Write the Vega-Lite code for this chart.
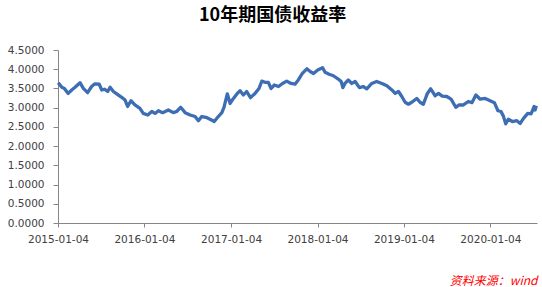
{
  "$schema": "https://vega.github.io/schema/vega-lite/v6.json",
  "width": 479,
  "height": 173,
  "autosize": {"type": "none"},
  "padding": {"left": 58, "top": 50, "right": 5, "bottom": 64},
  "background": "white",
  "title": {
    "text": "10年期国债收益率",
    "font": "Noto Sans CJK SC",
    "fontSize": 18,
    "fontWeight": "bold",
    "color": "#000000",
    "anchor": "middle",
    "frame": "bounds",
    "offset": 20
  },
  "config": {"view": {"stroke": null}},
  "data": {
    "values": [
      {"date": "2015-01-05", "yield": 3.65},
      {"date": "2015-01-20", "yield": 3.53},
      {"date": "2015-01-31", "yield": 3.50},
      {"date": "2015-02-16", "yield": 3.37},
      {"date": "2015-03-03", "yield": 3.46},
      {"date": "2015-03-17", "yield": 3.53},
      {"date": "2015-04-07", "yield": 3.65},
      {"date": "2015-04-21", "yield": 3.50},
      {"date": "2015-05-09", "yield": 3.39},
      {"date": "2015-05-26", "yield": 3.55},
      {"date": "2015-06-09", "yield": 3.62},
      {"date": "2015-06-27", "yield": 3.61},
      {"date": "2015-07-08", "yield": 3.46},
      {"date": "2015-07-19", "yield": 3.48},
      {"date": "2015-08-02", "yield": 3.42},
      {"date": "2015-08-12", "yield": 3.53},
      {"date": "2015-08-26", "yield": 3.42},
      {"date": "2015-09-09", "yield": 3.36},
      {"date": "2015-09-30", "yield": 3.27},
      {"date": "2015-10-14", "yield": 3.20},
      {"date": "2015-10-25", "yield": 3.03},
      {"date": "2015-11-08", "yield": 3.18},
      {"date": "2015-11-25", "yield": 3.07},
      {"date": "2015-12-16", "yield": 2.98},
      {"date": "2015-12-30", "yield": 2.85},
      {"date": "2016-01-18", "yield": 2.81},
      {"date": "2016-02-04", "yield": 2.90},
      {"date": "2016-02-18", "yield": 2.85},
      {"date": "2016-03-03", "yield": 2.92},
      {"date": "2016-03-21", "yield": 2.87},
      {"date": "2016-04-14", "yield": 2.94},
      {"date": "2016-05-05", "yield": 2.87},
      {"date": "2016-05-19", "yield": 2.90},
      {"date": "2016-06-05", "yield": 3.01},
      {"date": "2016-06-24", "yield": 2.87},
      {"date": "2016-07-15", "yield": 2.81},
      {"date": "2016-08-05", "yield": 2.77},
      {"date": "2016-08-19", "yield": 2.66},
      {"date": "2016-09-02", "yield": 2.77},
      {"date": "2016-09-20", "yield": 2.75},
      {"date": "2016-10-07", "yield": 2.70},
      {"date": "2016-10-25", "yield": 2.64},
      {"date": "2016-11-11", "yield": 2.77},
      {"date": "2016-11-26", "yield": 2.87},
      {"date": "2016-12-05", "yield": 3.01},
      {"date": "2016-12-19", "yield": 3.36},
      {"date": "2016-12-31", "yield": 3.11},
      {"date": "2017-01-14", "yield": 3.24},
      {"date": "2017-01-30", "yield": 3.37},
      {"date": "2017-02-11", "yield": 3.44},
      {"date": "2017-02-25", "yield": 3.33},
      {"date": "2017-03-11", "yield": 3.42},
      {"date": "2017-03-27", "yield": 3.26},
      {"date": "2017-04-15", "yield": 3.37},
      {"date": "2017-05-02", "yield": 3.50},
      {"date": "2017-05-14", "yield": 3.69},
      {"date": "2017-05-27", "yield": 3.66},
      {"date": "2017-06-10", "yield": 3.66},
      {"date": "2017-06-22", "yield": 3.50},
      {"date": "2017-07-06", "yield": 3.59},
      {"date": "2017-07-23", "yield": 3.55},
      {"date": "2017-08-09", "yield": 3.63},
      {"date": "2017-08-27", "yield": 3.69},
      {"date": "2017-09-14", "yield": 3.63},
      {"date": "2017-10-01", "yield": 3.61},
      {"date": "2017-10-15", "yield": 3.72},
      {"date": "2017-11-01", "yield": 3.89},
      {"date": "2017-11-20", "yield": 4.01},
      {"date": "2017-12-04", "yield": 3.94},
      {"date": "2017-12-18", "yield": 3.89},
      {"date": "2018-01-05", "yield": 3.98},
      {"date": "2018-01-25", "yield": 4.04},
      {"date": "2018-02-05", "yield": 3.92},
      {"date": "2018-02-22", "yield": 3.87},
      {"date": "2018-03-12", "yield": 3.83},
      {"date": "2018-03-31", "yield": 3.75},
      {"date": "2018-04-14", "yield": 3.68},
      {"date": "2018-04-21", "yield": 3.52},
      {"date": "2018-04-30", "yield": 3.63},
      {"date": "2018-05-14", "yield": 3.72},
      {"date": "2018-05-29", "yield": 3.63},
      {"date": "2018-06-12", "yield": 3.68},
      {"date": "2018-06-30", "yield": 3.52},
      {"date": "2018-07-17", "yield": 3.55},
      {"date": "2018-07-31", "yield": 3.49},
      {"date": "2018-08-21", "yield": 3.63},
      {"date": "2018-09-11", "yield": 3.68},
      {"date": "2018-10-03", "yield": 3.63},
      {"date": "2018-10-24", "yield": 3.57},
      {"date": "2018-11-14", "yield": 3.46},
      {"date": "2018-11-28", "yield": 3.37},
      {"date": "2018-12-12", "yield": 3.42},
      {"date": "2018-12-26", "yield": 3.29},
      {"date": "2019-01-09", "yield": 3.14},
      {"date": "2019-01-23", "yield": 3.09},
      {"date": "2019-02-06", "yield": 3.14},
      {"date": "2019-02-27", "yield": 3.24},
      {"date": "2019-03-13", "yield": 3.14},
      {"date": "2019-03-27", "yield": 3.09},
      {"date": "2019-04-13", "yield": 3.37},
      {"date": "2019-04-27", "yield": 3.49},
      {"date": "2019-05-16", "yield": 3.31},
      {"date": "2019-05-30", "yield": 3.37},
      {"date": "2019-06-15", "yield": 3.30},
      {"date": "2019-07-04", "yield": 3.29},
      {"date": "2019-07-22", "yield": 3.22},
      {"date": "2019-08-11", "yield": 3.01},
      {"date": "2019-08-25", "yield": 3.07},
      {"date": "2019-09-12", "yield": 3.07},
      {"date": "2019-10-03", "yield": 3.16},
      {"date": "2019-10-18", "yield": 3.13},
      {"date": "2019-11-04", "yield": 3.33},
      {"date": "2019-11-22", "yield": 3.22},
      {"date": "2019-12-13", "yield": 3.24},
      {"date": "2020-01-03", "yield": 3.18},
      {"date": "2020-01-21", "yield": 3.13},
      {"date": "2020-02-05", "yield": 2.92},
      {"date": "2020-02-18", "yield": 2.90},
      {"date": "2020-02-28", "yield": 2.78},
      {"date": "2020-03-09", "yield": 2.58},
      {"date": "2020-03-20", "yield": 2.70},
      {"date": "2020-04-06", "yield": 2.64},
      {"date": "2020-04-25", "yield": 2.66},
      {"date": "2020-05-09", "yield": 2.59},
      {"date": "2020-05-23", "yield": 2.72},
      {"date": "2020-06-10", "yield": 2.85},
      {"date": "2020-06-24", "yield": 2.84},
      {"date": "2020-07-07", "yield": 3.03},
      {"date": "2020-07-11", "yield": 2.94},
      {"date": "2020-07-16", "yield": 3.05}
    ]
  },
  "mark": {"type": "line", "color": "#3D6EB4", "strokeWidth": 3.3, "strokeJoin": "round", "interpolate": "linear"},
  "encoding": {
    "x": {
      "field": "date",
      "type": "temporal",
      "scale": {
        "type": "utc",
        "domain": [
          {"year": 2015, "month": 1, "date": 4, "utc": true},
          {"year": 2020, "month": 7, "date": 19, "utc": true}
        ],
        "nice": false
      },
      "axis": {
        "values": [
          {"year": 2015, "month": 1, "date": 4, "utc": true},
          {"year": 2016, "month": 1, "date": 4, "utc": true},
          {"year": 2017, "month": 1, "date": 4, "utc": true},
          {"year": 2018, "month": 1, "date": 4, "utc": true},
          {"year": 2019, "month": 1, "date": 4, "utc": true},
          {"year": 2020, "month": 1, "date": 4, "utc": true}
        ],
        "labelExpr": "utcFormat(datum.value, '%Y-%m-%d')",
        "labelFont": "DejaVu Sans",
        "labelFontSize": 10.5,
        "labelColor": "#404040",
        "labelPadding": 7,
        "labelOverlap": false,
        "labelFlush": false,
        "tickSize": 4,
        "tickColor": "#868686",
        "domainColor": "#868686",
        "grid": false,
        "title": "资料来源：wind",
        "titleFont": "Noto Sans CJK SC",
        "titleFontSize": 12,
        "titleFontWeight": "normal",
        "titleFontStyle": "italic",
        "titleColor": "#FF0000",
        "titleAnchor": "end",
        "titleAlign": "right",
        "titlePadding": 31
      }
    },
    "y": {
      "field": "yield",
      "type": "quantitative",
      "scale": {"domain": [0, 4.5], "nice": false, "zero": true},
      "axis": {
        "values": [0, 0.5, 1, 1.5, 2, 2.5, 3, 3.5, 4, 4.5],
        "format": ".4f",
        "labelFont": "DejaVu Sans",
        "labelFontSize": 10.5,
        "labelColor": "#404040",
        "labelPadding": 9,
        "tickSize": 5,
        "tickColor": "#868686",
        "domainColor": "#868686",
        "grid": false,
        "title": null
      }
    }
  }
}
